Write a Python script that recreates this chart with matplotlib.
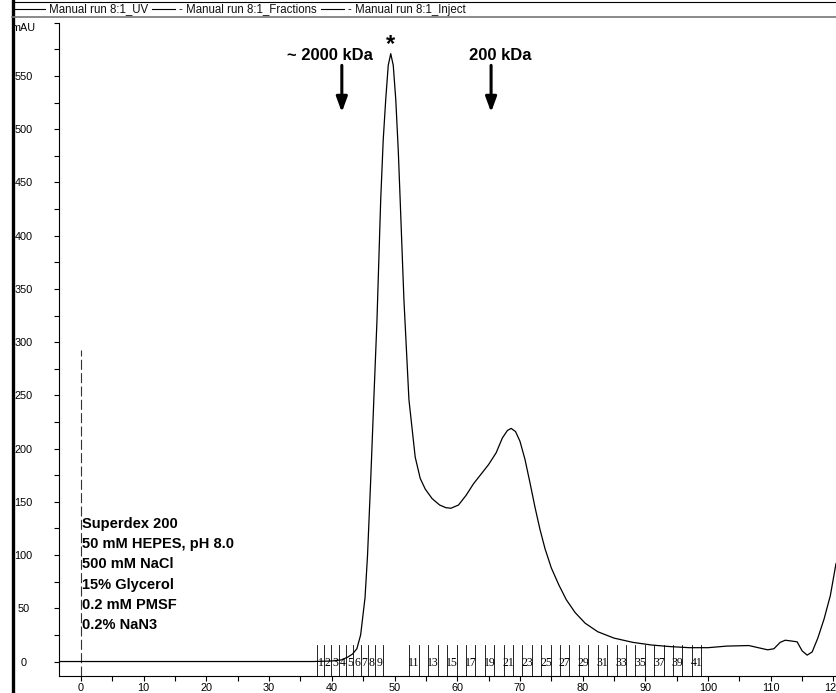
import matplotlib
matplotlib.use("Agg")
import matplotlib.pyplot as plt
from matplotlib.lines import Line2D
import numpy as np

# ---------------- data ----------------
uv_x = [-3.5, 0, 10, 20, 30, 37, 40, 41.5, 42.5, 43.3, 44.0, 44.6, 45.0, 45.3, 45.7,
        46.2, 46.7, 47.2, 47.8, 48.2, 48.6, 49.0, 49.4, 49.8, 50.2, 50.6, 50.9, 51.5,
        52.3, 53.3, 54.1, 54.9, 56.0, 57.2, 58.2, 59.0, 60.2, 61.4, 62.6, 63.8, 65.0,
        66.2, 67.2, 68.0, 68.6, 69.3, 70.0, 70.8, 71.6, 72.4, 73.2, 74.0, 75.0, 76.2,
        77.4, 78.8, 80.4, 82.4, 85.0, 88.0, 91.0, 94.0, 97.0, 100.0, 103.0, 106.5,
        108.0, 109.5, 110.5, 111.5, 112.3, 113.0, 114.2, 115.0, 115.8, 116.6, 117.5,
        118.5, 119.5, 120.4]
uv_y = [0, 0, 0, 0, 0, 0, 0.5, 1.5, 4, 7, 12, 25, 45, 60, 100,
        170, 246, 320, 434, 490, 528, 560, 571, 560, 528, 480, 434, 340,
        246, 192, 172, 162, 153, 147, 144.5, 144, 147, 156, 167, 176, 185,
        196, 210, 217, 219, 216, 207, 190, 168, 145, 124, 106, 88, 72,
        58, 46, 36, 28, 22, 18, 15.5, 14, 13, 13, 14.5, 15,
        13, 11, 12, 18, 20, 19.5, 18.5, 10, 6, 9, 22,
        40, 62, 92]

inject_x = 0.0
inject_top = 293

frac_edges = [37.6, 38.77, 39.94, 41.11, 42.28, 43.45, 44.62, 45.79, 46.96, 48.13,
              52.3, 53.9, 55.4, 56.9, 58.4, 59.9, 61.4, 62.9, 64.4, 65.9, 67.4, 68.9,
              70.4, 71.9, 73.4, 74.9, 76.4, 77.9, 79.4, 80.9, 82.4, 83.9, 85.4, 86.9,
              88.4, 89.9, 91.4, 92.9, 94.4, 95.9, 97.4, 98.9]
frac_labels = [str(n) for n in range(1, 42)]
shown_labels = [str(n) for n in range(1, 10)] + [str(n) for n in range(11, 42, 2)]

yticks = list(range(0, 601, 50))
ytick_labels = [str(v) for v in range(0, 551, 50)] + ["mAU"]
xticks = list(range(0, 121, 10))
xtick_labels = [str(v) for v in xticks]

legend_items = ["Manual run 8:1_UV", "- Manual run 8:1_Fractions", "- Manual run 8:1_Inject"]
buffer_lines = ["Superdex 200", "50 mM HEPES, pH 8.0", "500 mM NaCl",
                "15% Glycerol", "0.2 mM PMSF", "0.2% NaN3"]
# (label, label x, arrow x)
markers = [("~ 2000 kDa", 39.7, 41.6), ("200 kDa", 66.8, 65.4)]
peak_star = (49.4, 571)

# ---------------- figure ----------------
W, H = 836, 693
fig = plt.figure(figsize=(W / 100, H / 100), dpi=100)
fig.patch.set_facecolor("white")

def fx(px):
    return px / W

def fy(py):
    return 1 - py / H

ax = fig.add_axes([fx(59), fy(676), 1 - fx(59), fy(22.8) - fy(676)])
ax.set_xlim(-3.5, 120.4)
ax.set_ylim(-13.6, 600)
for s in ["top", "right"]:
    ax.spines[s].set_visible(False)
for s in ["left", "bottom"]:
    ax.spines[s].set_linewidth(0.8)
    ax.spines[s].set_color("black")

tick_font = dict(family="Liberation Sans", size=7.8)
ax.set_yticks(yticks)
ax.set_yticklabels(ytick_labels, fontdict=tick_font)
ax.set_yticks(np.arange(25, 600, 50), minor=True)
ax.tick_params(axis="y", which="both", direction="out", length=3.5, width=0.8, pad=22.0)
for lab in ax.get_yticklabels():
    lab.set_ha("center")
ax.get_yticklabels()[-1].set_va("top")
ax.set_xticks(xticks)
ax.set_xticklabels(xtick_labels, fontdict=tick_font)
ax.set_xticks(np.arange(5, 121, 10), minor=True)
ax.tick_params(axis="x", which="both", direction="out", length=3.5, width=0.8, pad=1.5)

# UV trace
ax.plot(uv_x, uv_y, color="black", lw=0.9, solid_joinstyle="round", zorder=3)

# Inject mark
ax.plot([inject_x, inject_x], [-13.6, inject_top], color="#333333", lw=0.8,
        dashes=(9, 3), zorder=2)

# Fractions
for e in frac_edges:
    ax.plot([e, e], [-13.6, 15.5], color="black", lw=0.6, zorder=2)
for i, lab in enumerate(frac_labels):
    if lab in shown_labels:
        c = 0.5 * (frac_edges[i] + frac_edges[i + 1])
        ax.text(c, -1.5, lab, ha="center", va="center", fontsize=8.5,
                family="Liberation Serif", color="black", zorder=4)

# buffer text
for i, t in enumerate(buffer_lines):
    ax.text(fx(82), fy(524 + 20.2 * i), t, transform=fig.transFigure,
            ha="left", va="center", fontsize=10.5, fontweight="bold",
            family="Liberation Sans")

# size markers with arrows
for lab, lx, xv in markers:
    ax.text(lx, 569, lab, ha="center", va="center", fontsize=12,
            fontweight="bold", family="Liberation Sans")
    ax.annotate("", xy=(xv, 516), xytext=(xv, 560),
                arrowprops=dict(arrowstyle="-|>,head_width=0.33,head_length=0.9",
                                lw=2.2, color="black", shrinkA=0, shrinkB=0))
ax.text(peak_star[0], peak_star[1] + 9, "*", ha="center", va="center", fontsize=17,
        fontweight="bold", family="Liberation Sans")

# window frame & legend bar
fig.add_artist(Line2D([fx(12.5), fx(12.5)], [0, 1], transform=fig.transFigure,
                      color="black", lw=2.4))
fig.add_artist(Line2D([fx(12), 1], [fy(1.5), fy(1.5)], transform=fig.transFigure,
                      color="black", lw=0.8))
fig.add_artist(Line2D([fx(12), 1], [fy(17), fy(17)], transform=fig.transFigure,
                      color="#777777", lw=1.2))

renderer = fig.canvas.get_renderer()
cur = 14.0
line_lens = [31, 23, 23]
for L, t in zip(line_lens, legend_items):
    fig.add_artist(Line2D([fx(cur), fx(cur + L)], [fy(9), fy(9)],
                          transform=fig.transFigure, color="black", lw=0.8))
    cur += L + 4
    txt = fig.text(fx(cur), fy(12.5), t, ha="left", va="baseline", fontsize=8.3,
                   family="Liberation Sans", color="#111111")
    bb = txt.get_window_extent(renderer=renderer)
    cur += bb.width + 4

fig.savefig("out.png", dpi=100, facecolor="white")
